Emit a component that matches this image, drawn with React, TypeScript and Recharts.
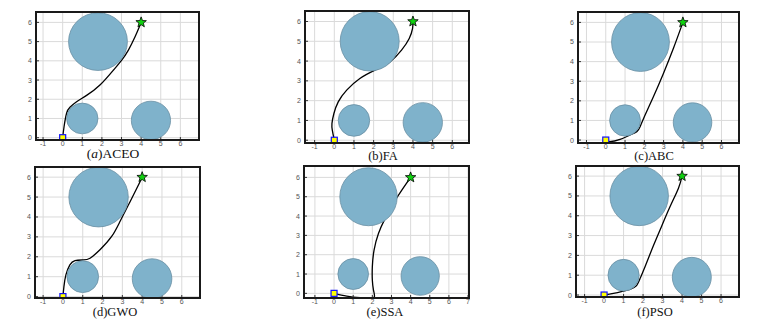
import React from "react";
import { ComposedChart, Line, Scatter, XAxis, YAxis, CartesianGrid } from "recharts";

// obstacles (same in every panel): centre and radius in map units
const obstacleX = [1.8, 1, 4.5];
const obstacleY = [5, 1, 0.9];
const obstacleR = [1.5, 0.8, 1.0];

const startPoint = { x: 0, y: 0 };
const goalPoint = { x: 4, y: 6 };

const yTicks = [0, 1, 2, 3, 4, 5, 6];
const xTicks = [-1, 0, 1, 2, 3, 4, 5, 6];
const xTicksWide = [-1, 0, 1, 2, 3, 4, 5, 6, 7];

// planned paths
const aceoX = [0, 0.07, 0.2, 0.37, 0.71, 1.22, 1.9, 2.59, 3.01, 3.35, 3.69, 3.91, 4];
const aceoY = [0, 0.57, 1.27, 1.58, 1.87, 2.2, 2.74, 3.52, 4.04, 4.56, 5.25, 5.77, 6];

const faX = [0, -0.1, -0.12, -0.02, 0.2, 0.63, 1.3, 2.07, 2.83, 3.42, 3.81, 3.98, 4];
const faY = [0, 0.5, 0.84, 1.35, 1.94, 2.53, 3.12, 3.54, 3.96, 4.55, 5.14, 5.65, 6];

const abcX = [0, 0.22, 0.74, 1.26, 1.61, 1.78, 2.04, 2.47, 2.99, 3.51, 4];
const abcY = [0, -0.08, 0.03, 0.26, 0.43, 0.68, 1.28, 2.21, 3.4, 4.68, 6];

const gwoX = [0, 0.05, 0.15, 0.35, 0.61, 1.03, 1.37, 1.87, 2.46, 2.88, 3.31, 3.73, 4];
const gwoY = [0, 0.5, 1.09, 1.59, 1.81, 1.84, 1.93, 2.35, 3.02, 3.77, 4.61, 5.44, 6];

const ssaX = [0, 0.66, 1.36, 1.88, 2.11, 2.06, 2.0, 2.0, 2.09, 2.32, 2.67, 3.1, 3.54, 4];
const ssaY = [0, -0.14, -0.22, -0.24, -0.17, 0.17, 0.69, 1.38, 2.24, 3.1, 3.88, 4.66, 5.34, 6];

const psoX = [0, 0.48, 0.99, 1.33, 1.64, 1.85, 2.1, 2.44, 2.87, 3.38, 3.81, 4];
const psoY = [0, 0.08, 0.2, 0.29, 0.45, 0.84, 1.43, 2.27, 3.28, 4.45, 5.38, 6];

const zip = (xs: number[], ys: number[]) => xs.map((x, i) => ({ x, y: ys[i] }));

const obstacles = obstacleX.map((x, i) => ({ x, y: obstacleY[i], r: obstacleR[i] }));

interface PanelSpec {
  key: string;
  label: React.ReactNode;
  path: { x: number; y: number }[];
  left: number;
  top: number;
  w: number;
  h: number;
  xd: [number, number];
  yd: [number, number];
  xt: number[];
  titleX: number;
  titleY: number;
  titleSize: number;
}

const panels: PanelSpec[] = [
  {
    key: "a", label: <>(<i>a</i>)ACEO</>, path: zip(aceoX, aceoY),
    left: 36, top: 12, w: 163, h: 128, xd: [-1.36, 6.95], yd: [-0.12, 6.54], xt: xTicks,
    titleX: 113, titleY: 154, titleSize: 13.5,
  },
  {
    key: "b", label: "(b)FA", path: zip(faX, faY),
    left: 305, top: 11, w: 164, h: 132, xd: [-1.49, 6.85], yd: [-0.14, 6.53], xt: xTicks,
    titleX: 383, titleY: 156, titleSize: 12.5,
  },
  {
    key: "c", label: "(c)ABC", path: zip(abcX, abcY),
    left: 578, top: 12, w: 161, h: 131, xd: [-1.44, 6.91], yd: [-0.15, 6.53], xt: xTicks,
    titleX: 654, titleY: 156, titleSize: 12.5,
  },
  {
    key: "d", label: "(d)GWO", path: zip(gwoX, gwoY),
    left: 35, top: 167, w: 165, h: 131, xd: [-1.41, 6.92], yd: [-0.07, 6.51], xt: xTicks,
    titleX: 115, titleY: 312, titleSize: 12.5,
  },
  {
    key: "e", label: "(e)SSA", path: zip(ssaX, ssaY),
    left: 304, top: 166, w: 165, h: 132, xd: [-1.57, 7.05], yd: [-0.24, 6.59], xt: xTicksWide,
    titleX: 385, titleY: 312, titleSize: 12.5,
  },
  {
    key: "f", label: "(f)PSO", path: zip(psoX, psoY),
    left: 576, top: 166, w: 163, h: 131, xd: [-1.44, 6.92], yd: [-0.1, 6.51], xt: xTicks,
    titleX: 655, titleY: 312, titleSize: 12.5,
  },
];

const ML = 26; // room for y tick labels
const MB = 11; // room for x tick labels

const starPoints = (cx: number, cy: number, ro: number, ri: number) => {
  const pts: string[] = [];
  for (let i = 0; i < 10; i++) {
    const a = -Math.PI / 2 + (i * Math.PI) / 5;
    const r = i % 2 === 0 ? ro : ri;
    pts.push(`${cx + r * Math.cos(a)},${cy + r * Math.sin(a)}`);
  }
  return pts.join(" ");
};

const tickStyle = { fontSize: 7, fill: "#555", fontFamily: "Liberation Sans, Arial, sans-serif" };

function Panel({ p }: { p: PanelSpec }) {
  const kx = p.w / (p.xd[1] - p.xd[0]);
  const ky = p.h / (p.yd[1] - p.yd[0]);
  return (
    <>
      <div style={{ position: "absolute", left: p.left - ML, top: p.top }}>
        <ComposedChart
          width={p.w + ML + 2}
          height={p.h + MB}
          margin={{ top: 0, right: 2, left: 0, bottom: 0 }}
        >
          <CartesianGrid stroke="#dadada" strokeWidth={1} />
          <XAxis
            type="number"
            dataKey="x"
            domain={p.xd}
            ticks={p.xt}
            allowDataOverflow
            height={MB}
            axisLine={false}
            tickLine={{ stroke: "#333" }}
            tickSize={-3}
            tickMargin={4}
            tick={tickStyle}
            interval={0}
          />
          <YAxis
            type="number"
            dataKey="y"
            domain={p.yd}
            ticks={yTicks}
            allowDataOverflow
            width={ML}
            axisLine={false}
            tickLine={{ stroke: "#333" }}
            tickSize={-3}
            tickMargin={7}
            tick={tickStyle}
            interval={0}
          />
          <Scatter
            data={obstacles}
            isAnimationActive={false}
            shape={(s: any) => (
              <ellipse
                cx={s.cx}
                cy={s.cy}
                rx={s.payload.r * kx}
                ry={s.payload.r * ky}
                fill="#7fb2cb"
                stroke="#6a8fa3"
                strokeWidth={0.8}
              />
            )}
          />
          <Line
            data={p.path}
            dataKey="y"
            type="natural"
            stroke="#000"
            strokeWidth={1.3}
            dot={false}
            activeDot={false}
            isAnimationActive={false}
          />
          <Scatter
            data={[startPoint]}
            isAnimationActive={false}
            shape={(s: any) => (
              <rect x={s.cx - 3} y={s.cy - 3} width={6} height={6} fill="#ffff00" stroke="#1010ff" strokeWidth={1.2} />
            )}
          />
          <Scatter
            data={[goalPoint]}
            isAnimationActive={false}
            shape={(s: any) => (
              <polygon points={starPoints(s.cx, s.cy, 5.5, 2.3)} fill="#10d010" stroke="#000" strokeWidth={0.8} />
            )}
          />
        </ComposedChart>
      </div>
      <div
        style={{
          position: "absolute",
          left: p.left - 1,
          top: p.top - 1,
          width: p.w + 2,
          height: p.h + 2,
          border: "2px solid #1a1a1a",
          boxSizing: "border-box",
          pointerEvents: "none",
        }}
      />
      <div
        style={{
          position: "absolute",
          left: p.titleX,
          top: p.titleY,
          transform: "translate(-50%, -50%)",
          fontFamily: "Liberation Serif, Times New Roman, serif",
          fontSize: p.titleSize,
          lineHeight: 1,
          color: "#111",
          whiteSpace: "nowrap",
        }}
      >
        {p.label}
      </div>
    </>
  );
}

export default function App() {
  return (
    <div style={{ position: "absolute", left: 0, top: 0, width: 773, height: 328, background: "#fff", overflow: "hidden" }}>
      {panels.map((p) => (
        <Panel key={p.key} p={p} />
      ))}
    </div>
  );
}
